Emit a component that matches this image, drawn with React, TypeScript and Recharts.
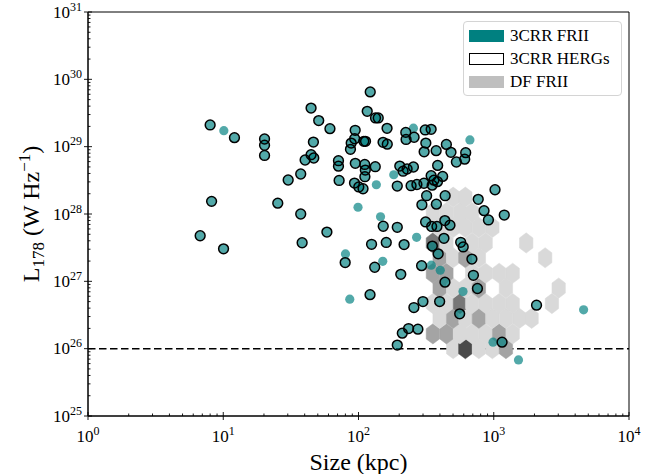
import React from 'react';
import { ScatterChart, Scatter, XAxis, YAxis, ReferenceLine, ReferenceArea, Label } from 'recharts';

const FONT = '"Liberation Serif", "DejaVu Serif", serif';

// 3CRR HERGs (FRII, black edge) - size in kpc, L178 in W/Hz
const hergSize = [
  8.0, 12.1, 20.2, 20.2, 20.2, 8.2, 6.75, 10.05, 25.3, 37.4, 38.3, 58.4, 30.2, 37.4, 40.3, 44.6,
  46.7, 46.4, 44.6, 50.8, 61.5, 71.1, 71.1, 71.9, 94.5, 93.7, 88.3, 87.2, 112.7, 109.5, 122.1, 116,
  133.6, 139.9, 162.6, 151.9, 163.2, 223.7, 224.8, 257.7, 311.4, 344.4, 314.6, 305.7, 375.1, 446.3, 482.7, 620.2,
  609.8, 529.3, 94.7, 111.2, 112.3, 111.5, 133, 93.4, 100.5, 108, 202, 213.6, 228.7, 254.7,
  193.5, 244.8, 270.3, 304.6, 384.8, 344.4, 419, 361.3, 383.5, 350.4, 318.9, 437.2, 294.3, 376.4, 1022, 767.8,
  847.7, 913.3, 1196, 152.4, 193.5, 313.5, 347.4, 380.2, 435, 474.6, 124.9, 160.4, 217.3, 428.4, 351.6, 388.1,
  569.6, 594.4, 689.4, 79.7, 131.8, 205.4, 292.8, 707.3, 435.8, 757.4, 121.7, 398.1, 299.5, 256.8, 2072, 559.9,
  234.6, 210.8, 274.9, 193.5, 1152,
];
const hergLum = [
  2.1e29, 1.36e29, 1.3e29, 1.05e29, 7.4e28, 1.54e28, 4.75e27, 3.04e27, 1.45e28, 1.0e28, 3.74e27, 5.39e27, 3.2e28, 3.93e28, 6.34e28, 7.6e28,
  6.79e28, 1.17e29, 3.74e29, 2.44e29, 1.85e29, 6.19e28, 5.13e28, 3.15e28, 1.75e29, 1.31e29, 1.13e29, 9.12e28, 1.2e29, 1.2e29, 6.51e29, 3.35e29,
  2.67e29, 2.67e29, 1.87e29, 1.16e29, 1.09e29, 1.63e29, 1.28e29, 1.38e29, 1.77e29, 1.81e29, 1.13e29, 8.37e28, 8.72e28, 1.08e29, 8.23e28, 8.14e28,
  6.52e28, 5.92e28, 5.65e28, 5.44e28, 4.49e28, 3.58e28, 5.04e28, 2.88e28, 2.52e28, 2.37e28, 5.15e28, 4.32e28, 4.66e28, 4.99e28,
  2.6e28, 2.63e28, 2.74e28, 2.86e28, 5.27e28, 3.7e28, 3.62e28, 3.18e28, 3.02e28, 2.68e28, 1.87e28, 1.87e28, 1.37e28, 1.4e28, 2.29e28, 1.65e28,
  1.12e28, 8.16e27, 9.65e27, 6.58e27, 6.35e27, 7.62e27, 6.53e27, 6.53e27, 7.99e27, 6.83e27, 3.55e27, 3.78e27, 3.51e27, 4.35e27, 3.34e27, 2.56e27,
  3.8e27, 3.24e27, 2.14e27, 1.9e27, 1.62e27, 1.27e27, 1.71e27, 1.23e27, 9.73e26, 7.82e26, 6.34e26, 5.01e26, 5.01e26, 4.08e26, 4.43e26, 3.29e26,
  1.99e26, 1.7e26, 1.95e26, 1.13e26, 1.25e26,
];

// other 3CRR FRII (no edge)
const otherSize = [10.1, 254.7, 666.3, 135.5, 182.3, 99.2, 145.5, 268.9, 80.1, 151.1, 345, 402.2, 592.4, 86.2, 988.1, 1524, 4617];
const otherLum = [1.73e29, 1.88e29, 1.26e29, 2.72e28, 3.83e28, 1.26e28, 9.1e27, 4.5e27, 2.55e27, 1.98e27, 1.74e27, 1.46e27, 7.05e26, 5.44e26, 1.25e26, 6.8e25, 3.77e26];

// DF FRII hexbin, one row per log10(L178), cells as log10(size) with shade level
const hexRowLogLum = [26.0, 26.22, 26.45, 26.67, 26.9, 27.12, 27.35, 27.57, 27.8, 28.02, 28.25];
const hexRowLogSize = [
  [2.7, 2.79, 2.89, 2.99, 3.09],
  [2.55, 2.65, 2.75, 2.84, 2.94, 3.04, 3.14],
  [2.6, 2.7, 2.79, 2.89, 2.99, 3.09, 3.19, 3.28],
  [2.55, 2.65, 2.75, 2.84, 2.94, 3.04, 3.14, 3.43],
  [2.6, 2.7, 2.79, 2.89, 3.09, 3.48],
  [2.55, 2.65, 2.84, 2.94, 3.04, 3.14],
  [2.6, 2.7, 2.79, 2.89, 3.38],
  [2.55, 2.65, 2.84, 2.94, 3.24],
  [2.6, 2.7, 2.79, 2.89, 2.99],
  [2.55, 2.65, 2.75, 2.84],
  [2.7, 2.79],
];
const hexRowLevel = [
  [1, 4, 1, 1, 2],
  [2, 2, 1, 1, 1, 2, 1],
  [1, 2, 1, 2, 1, 1, 1, 1],
  [1, 1, 3, 1, 1, 1, 1, 1],
  [2, 1, 1, 2, 1, 1],
  [2, 2, 1, 1, 1, 1],
  [2, 1, 2, 1, 1],
  [3, 1, 1, 1, 1],
  [1, 1, 1, 1, 1],
  [1, 1, 1, 1],
  [1, 1],
];
const greyShades = ['#d9d9d9', '#a4a4a4', '#777777', '#4a4a4a'];

const xMajor = [1, 10, 100, 1000, 10000];
const yMajor = [1e25, 1e26, 1e27, 1e28, 1e29, 1e30, 1e31];
const withMinor = (major: number[]) => {
  const out: number[] = [];
  major.forEach((m, i) => {
    out.push(m);
    if (i < major.length - 1) for (let k = 2; k < 10; k++) out.push(m * k);
  });
  return out;
};
const xTicks = withMinor(xMajor);
const yTicks = withMinor(yMajor);

const hergData = hergSize.map((s, i) => ({ x: s, y: hergLum[i] }));
const otherData = otherSize.map((s, i) => ({ x: s, y: otherLum[i] }));
const friiData = [...otherData, ...hergData];
const hexData = hexRowLogLum.flatMap((l, r) =>
  hexRowLogSize[r].map((s, c) => ({ x: Math.pow(10, s), y: Math.pow(10, l), level: hexRowLevel[r][c] }))
);

const isMajor = (v: number) => Math.abs(Math.log10(v) - Math.round(Math.log10(v))) < 1e-6;

const XTick = ({ x, y, payload }: any) => {
  const v = payload.value;
  const major = isMajor(v);
  return (
    <g>
      <line x1={x} x2={x} y1={y - (major ? 4 : 2.5)} y2={y + (major ? 4 : 0)} stroke="#000" strokeWidth={0.9} />
      {major && (
        <text x={x} y={y + 26} textAnchor="middle" fontFamily={FONT} fontSize={17} fill="#000">
          10<tspan dy={-7} fontSize={12}>{Math.round(Math.log10(v))}</tspan>
        </text>
      )}
    </g>
  );
};

const YTick = ({ x, y, payload }: any) => {
  const v = payload.value;
  const major = isMajor(v);
  return (
    <g>
      <line x1={x - (major ? 4 : 0)} x2={x + (major ? 4 : 2.5)} y1={y} y2={y} stroke="#000" strokeWidth={0.9} />
      {major && (
        <text x={x - 6} y={y + 5.5} textAnchor="end" fontFamily={FONT} fontSize={17} fill="#000">
          10<tspan dy={-7} fontSize={12}>{Math.round(Math.log10(v))}</tspan>
        </text>
      )}
    </g>
  );
};

const XTitle = ({ viewBox }: any) => (
  <text x={viewBox.x + viewBox.width / 2} y={viewBox.y + 54} textAnchor="middle" fontFamily={FONT} fontSize={24} fill="#000">
    Size (kpc)
  </text>
);

const YTitle = ({ viewBox }: any) => {
  const cx = viewBox.x + viewBox.width - 49;
  const cy = viewBox.y + viewBox.height / 2;
  return (
    <text x={cx} y={cy} transform={`rotate(-90 ${cx} ${cy})`} textAnchor="middle" fontFamily={FONT} fontSize={24} fill="#000">
      L<tspan dy={5} fontSize={17}>178</tspan>
      <tspan dy={-5}> (W Hz</tspan>
      <tspan dy={-9} fontSize={17}>−1</tspan>
      <tspan dy={9}>)</tspan>
    </text>
  );
};

const renderHex = (p: any) => {
  const w = 6.7;
  const h = 10.1;
  const c = greyShades[p.payload.level - 1];
  const pts = [[w, -h / 2], [w, h / 2], [0, h], [-w, h / 2], [-w, -h / 2], [0, -h]]
    .map(([dx, dy]) => `${p.cx + dx},${p.cy + dy}`)
    .join(' ');
  return <polygon points={pts} fill={c} stroke={c} strokeWidth={0.5} />;
};
const renderFill = (p: any) => <circle cx={p.cx} cy={p.cy} r={4.6} fill="#008080" fillOpacity={0.68} />;
const renderRing = (p: any) => <circle cx={p.cx} cy={p.cy} r={4.9} fill="none" stroke="#000" strokeWidth={1.5} />;

const legendRows = [
  { label: '3CRR FRII', background: '#008080', border: 'none' },
  { label: '3CRR HERGs', background: '#fff', border: '1.5px solid #000' },
  { label: 'DF FRII', background: '#bfbfbf', border: 'none' },
];

export default function App() {
  return (
    <div style={{ position: 'absolute', left: 0, top: 0, width: 660, height: 474, background: '#fff' }}>
      <ScatterChart width={660} height={474} margin={{ top: 12, right: 31, bottom: 57, left: 87 }}>
        <XAxis
          type="number"
          dataKey="x"
          scale="log"
          domain={[1, 10000]}
          allowDataOverflow
          ticks={xTicks}
          interval={0}
          tick={<XTick />}
          tickLine={false}
          tickSize={0}
          tickMargin={0}
          height={1}
          axisLine={{ stroke: '#000' }}
        >
          <Label content={XTitle} />
        </XAxis>
        <YAxis
          type="number"
          dataKey="y"
          scale="log"
          domain={[1e25, 1e31]}
          allowDataOverflow
          ticks={yTicks}
          interval={0}
          tick={<YTick />}
          tickLine={false}
          tickSize={0}
          tickMargin={0}
          width={1}
          axisLine={{ stroke: '#000' }}
        >
          <Label content={YTitle} />
        </YAxis>
        <ReferenceArea x1={1} x2={10000} y1={1e25} y2={1e31} fill="none" stroke="#000" strokeWidth={1} />
        <Scatter data={hexData} shape={renderHex} isAnimationActive={false} />
        <Scatter data={friiData} shape={renderFill} isAnimationActive={false} />
        <Scatter data={hergData} shape={renderRing} isAnimationActive={false} />
        <ReferenceLine y={1e26} stroke="#000" strokeWidth={1.5} strokeDasharray="7.5 3.5" />
      </ScatterChart>
      <div
        style={{
          position: 'absolute',
          left: 463,
          top: 21,
          width: 159,
          height: 75,
          boxSizing: 'border-box',
          border: '1px solid #d4d4d4',
          borderRadius: 4,
          background: 'rgba(255,255,255,0.85)',
          fontFamily: FONT,
          fontSize: 17,
          color: '#000',
          paddingTop: 2,
        }}
      >
        {legendRows.map((r) => (
          <div key={r.label} style={{ display: 'flex', alignItems: 'center', height: 23, paddingLeft: 5 }}>
            <div style={{ width: 35, height: 12, background: r.background, border: r.border, boxSizing: 'border-box' }} />
            <span style={{ marginLeft: 6, lineHeight: '23px' }}>{r.label}</span>
          </div>
        ))}
      </div>
    </div>
  );
}
